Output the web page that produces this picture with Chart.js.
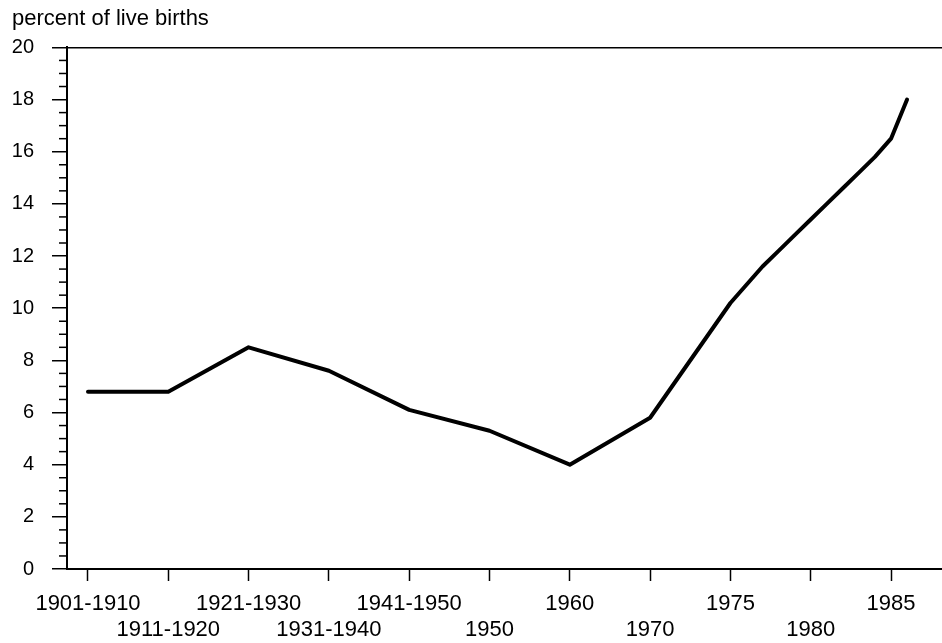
<!DOCTYPE html>
<html>
<head>
<meta charset="utf-8">
<script src="https://cdn.jsdelivr.net/npm/chart.js@4.4.0/dist/chart.umd.min.js"></script>
<style>
  html, body { margin: 0; padding: 0; background: #fff; }
</style>
</head>
<body>
<canvas id="lineChart" width="942" height="643"></canvas>
<script>
// decade / single-year points up to 1970, one slot per tick
var periodLabels = ['1901-1910', '1911-1920', '1921-1930', '1931-1940', '1941-1950', '1950', '1960', '1970'];
var periodValues = [6.8, 6.8, 8.5, 7.6, 6.1, 5.3, 4.0, 5.8];

// yearly points from 1975 on (5 years per tick slot)
var years = [1975, 1976, 1977, 1978, 1979, 1980, 1981, 1982, 1983, 1984, 1985, 1986];
var yearValues = [10.2, 10.9, 11.6, 12.2, 12.8, 13.4, 14.0, 14.6, 15.2, 15.8, 16.5, 18.0];

var tickLabels = ['1901-1910', '1911-1920', '1921-1930', '1931-1940', '1941-1950', '1950', '1960', '1970', '1975', '1980', '1985'];

var points = periodValues.map(function (v, i) { return {x: i, y: v}; });
years.forEach(function (yr, i) {
  points.push({x: tickLabels.indexOf('1975') + (yr - 1975) / 5, y: yearValues[i]});
});

Chart.defaults.font.family = '"Liberation Sans", Arial, sans-serif';
Chart.defaults.color = '#000';

// small ticks every 0.5 on the y axis
var minorTicks = {
  id: 'minorTicks',
  afterDraw: function (chart) {
    var sc = chart.scales.y, c = chart.ctx, left = chart.chartArea.left;
    c.save();
    c.strokeStyle = '#000';
    c.lineWidth = 1.5;
    for (var v = sc.min; v <= sc.max; v += 0.5) {
      if (v % 2 === 0) continue;
      var py = sc.getPixelForValue(v);
      c.beginPath();
      c.moveTo(left - 8, py);
      c.lineTo(left, py);
      c.stroke();
    }
    c.restore();
  }
};

var ctx = document.getElementById('lineChart');
var myChart = new Chart(ctx, {
  type: 'line',
  data: {
    datasets: [{
      data: points,
      borderColor: '#000',
      borderWidth: 4,
      borderJoinStyle: 'round',
      borderCapStyle: 'round',
      pointRadius: 0,
      tension: 0
    }]
  },
  options: {
    responsive: false,
    animation: false,
    layout: { padding: { left: 12, right: 0, top: 0, bottom: 0 } },
    plugins: {
      legend: { display: false },
      tooltip: { enabled: false },
      title: {
        display: true,
        text: 'percent of live births',
        align: 'start',
        color: '#000',
        font: { size: 22, weight: 'normal' },
        padding: { top: 6, bottom: 15 }
      }
    },
    scales: {
      x: {
        type: 'linear',
        min: -0.2615,
        max: 10.635,
        afterFit: function (scale) { scale.height = 74; },
        border: { display: true, color: '#000', width: 2 },
        grid: {
          drawOnChartArea: false,
          tickLength: 12,
          tickColor: '#000',
          tickWidth: 1.5
        },
        ticks: {
          stepSize: 1,
          includeBounds: false,
          maxRotation: 0,
          autoSkip: false,
          padding: 10,
          font: { size: 22, lineHeight: 1.18 },
          callback: function (value) {
            var label = tickLabels[value];
            if (label === undefined) return '';
            return value % 2 === 0 ? label : ['', label];
          }
        }
      },
      y: {
        min: 0,
        max: 20,
        afterFit: function (scale) { scale.width = 55; },
        border: { display: true, color: '#000', width: 2 },
        grid: {
          color: function (c) { return c.tick && c.tick.value === 20 ? '#000' : 'rgba(0,0,0,0)'; },
          lineWidth: 1.5,
          tickLength: 15,
          tickColor: '#000',
          tickWidth: 1.5
        },
        ticks: {
          stepSize: 2,
          padding: 18,
          font: { size: 20 }
        }
      }
    }
  },
  plugins: [minorTicks]
});
</script>
</body>
</html>
